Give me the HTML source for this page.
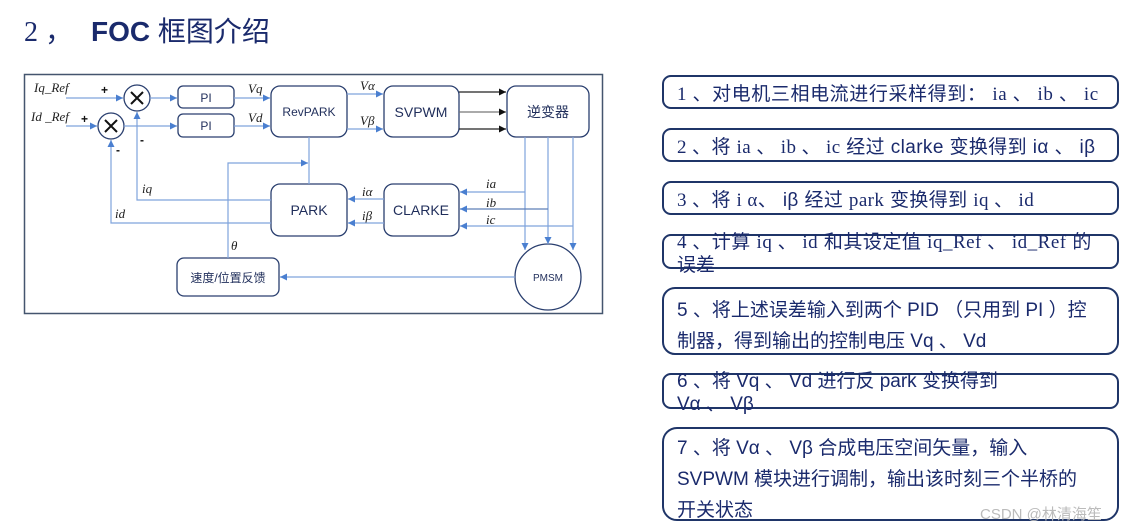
<!DOCTYPE html>
<html><head><meta charset="utf-8"><style>
body{margin:0;background:#fff;width:1132px;height:532px;overflow:hidden;}
svg{display:block}
.cn{font-family:"Liberation Sans","Noto Sans CJK SC",sans-serif}
.it{font-family:"Liberation Serif",serif;font-style:italic}
</style></head><body>
<svg width="1132" height="532" viewBox="0 0 1132 532" xmlns="http://www.w3.org/2000/svg">
<defs>
<marker id="b" markerWidth="8" markerHeight="8" refX="7" refY="4" orient="auto" markerUnits="userSpaceOnUse"><path d="M0,0.5 L7,4 L0,7.5z" fill="#4a7fd0"/></marker>
<marker id="k" markerWidth="8" markerHeight="8" refX="7" refY="4" orient="auto" markerUnits="userSpaceOnUse"><path d="M0,0.5 L7,4 L0,7.5z" fill="#111"/></marker>
</defs>
<text x="24" y="41" class="cn" font-size="28" fill="#1a2a6c"><tspan font-family="Liberation Serif">2 ，</tspan><tspan x="91" font-weight="bold">FOC</tspan> 框图介绍</text>

<rect x="24.5" y="74.5" width="578" height="239" fill="#fff" stroke="#44556e" stroke-width="1.5"/>

<g fill="#fff" stroke="#2a3f6f" stroke-width="1.3">
<rect x="178" y="86" width="56" height="22" rx="5"/>
<rect x="178" y="114" width="56" height="23" rx="5"/>
<rect x="271" y="86" width="76" height="51" rx="9"/>
<rect x="384" y="86" width="75" height="51" rx="9"/>
<rect x="507" y="86" width="82" height="51" rx="9"/>
<rect x="271" y="184" width="76" height="52" rx="9"/>
<rect x="384" y="184" width="75" height="52" rx="9"/>
<rect x="177" y="258" width="102" height="38" rx="7"/>
<circle cx="548" cy="277" r="33"/>
<circle cx="137" cy="98" r="13"/>
<circle cx="111" cy="126" r="13"/>
</g>
<g stroke="#111" stroke-width="2">
<path d="M131,92 L143,104 M143,92 L131,104"/>
<path d="M105,120 L117,132 M117,120 L105,132"/>
</g>

<g stroke="#7fa3dc" stroke-width="1.2" fill="none">
<path d="M66,98 H123" marker-end="url(#b)"/>
<path d="M66,126 H97" marker-end="url(#b)"/>
<path d="M150,98 H177" marker-end="url(#b)"/>
<path d="M124,126 H177" marker-end="url(#b)"/>
<path d="M234,98 H270" marker-end="url(#b)"/>
<path d="M234,126 H270" marker-end="url(#b)"/>
<path d="M347,94 H383" marker-end="url(#b)"/>
<path d="M347,129 H383" marker-end="url(#b)"/>
<path d="M309,137 V184"/>
<path d="M228,258 V163 H308" marker-end="url(#b)"/>
<path d="M271,200 H137 V112" marker-end="url(#b)"/>
<path d="M271,223 H111 V140" marker-end="url(#b)"/>
<path d="M384,199 H348" marker-end="url(#b)"/>
<path d="M384,223 H348" marker-end="url(#b)"/>
<path d="M525,137 V250" marker-end="url(#b)"/>
<path d="M548,137 V244" marker-end="url(#b)"/>
<path d="M573,137 V250" marker-end="url(#b)"/>
<path d="M525,192 H460" marker-end="url(#b)"/>
<path d="M548,209 H460" marker-end="url(#b)" stroke="#5d7fb8"/>
<path d="M573,226 H460" marker-end="url(#b)"/>
<path d="M515,277 H280" marker-end="url(#b)"/>
</g>
<g stroke="#222" stroke-width="1.2">
<path d="M459,92 H506" marker-end="url(#k)"/>
<path d="M459,112 H506" marker-end="url(#k)" stroke="#777"/>
<path d="M459,129 H506" marker-end="url(#k)"/>
</g>

<g class="cn" fill="#1f2d5a" text-anchor="middle">
<text x="206" y="102" font-size="12">PI</text>
<text x="206" y="130" font-size="12">PI</text>
<text x="309" y="116" font-size="12">RevPARK</text>
<text x="421" y="117" font-size="14">SVPWM</text>
<text x="548" y="117" font-size="14">逆变器</text>
<text x="309" y="215" font-size="14">PARK</text>
<text x="421" y="215" font-size="14">CLARKE</text>
<text x="228" y="282" font-size="12">速度/位置反馈</text>
<text x="548" y="281" font-size="10">PMSM</text>
</g>
<g font-size="12" fill="#111" class="cn" font-weight="bold">
<text x="101" y="94">+</text><text x="81" y="123">+</text>
<text x="140" y="144">-</text><text x="116" y="154">-</text>
</g>
<g class="it" font-size="13" fill="#222">
<text x="34" y="92">Iq_Ref</text>
<text x="31" y="121">Id _Ref</text>
<text x="248" y="93">Vq</text>
<text x="248" y="122">Vd</text>
<text x="360" y="90">Vα</text>
<text x="360" y="125">Vβ</text>
<text x="142" y="193">iq</text>
<text x="115" y="218">id</text>
<text x="231" y="250">θ</text>
<text x="362" y="196">iα</text>
<text x="362" y="220">iβ</text>
<text x="486" y="188">ia</text>
<text x="486" y="207">ib</text>
<text x="486" y="224">ic</text>
</g>

<g fill="none" stroke="#1f3568" stroke-width="2">
<rect x="663" y="76" width="455" height="32" rx="8"/>
<rect x="663" y="129" width="455" height="32" rx="8"/>
<rect x="663" y="182" width="455" height="32" rx="8"/>
<rect x="663" y="235" width="455" height="33" rx="8"/>
<rect x="663" y="288" width="455" height="66" rx="12"/>
<rect x="663" y="374" width="455" height="34" rx="8"/>
<rect x="663" y="428" width="455" height="92" rx="14"/>
</g>
<g class="cn" font-size="19" fill="#1a2a6c">
<text x="677" y="100" letter-spacing="0.6"><tspan font-family="Liberation Serif">1 、</tspan>对电机三相电流进行采样得到： <tspan font-family="Liberation Serif">ia 、 ib 、 ic</tspan></text>
<text x="677" y="153" letter-spacing="0.4"><tspan font-family="Liberation Serif">2 、</tspan>将 <tspan font-family="Liberation Serif">ia 、 ib 、 ic</tspan> 经过 clarke 变换得到 iα 、 iβ</text>
<text x="677" y="206" letter-spacing="0.4"><tspan font-family="Liberation Serif">3 、</tspan>将 <tspan font-family="Liberation Serif">i α</tspan>、 iβ 经过 <tspan font-family="Liberation Serif">park</tspan> 变换得到 <tspan font-family="Liberation Serif">iq 、 id</tspan></text>
<text x="677" y="248" letter-spacing="0.5"><tspan font-family="Liberation Serif">4 、</tspan>计算 <tspan font-family="Liberation Serif">iq 、 id</tspan> 和其设定值 <tspan font-family="Liberation Serif">iq_Ref 、 id_Ref</tspan> 的</text>
<text x="677" y="271">误差</text>
<text x="677" y="316">5 、将上述误差输入到两个 PID （只用到 PI ）控</text>
<text x="677" y="347">制器，得到输出的控制电压 Vq  、  Vd</text>
<text x="677" y="387">6 、将 Vq  、  Vd 进行反 park 变换得到</text>
<text x="677" y="410">Vα 、 Vβ</text>
<text x="677" y="454">7 、将 Vα 、 Vβ 合成电压空间矢量，输入</text>
<text x="677" y="485">SVPWM 模块进行调制，输出该时刻三个半桥的</text>
<text x="677" y="516">开关状态</text>
</g>
<text x="980" y="519" class="cn" font-size="15" fill="#bbb">CSDN @林清海笙</text>
</svg>
</body></html>
